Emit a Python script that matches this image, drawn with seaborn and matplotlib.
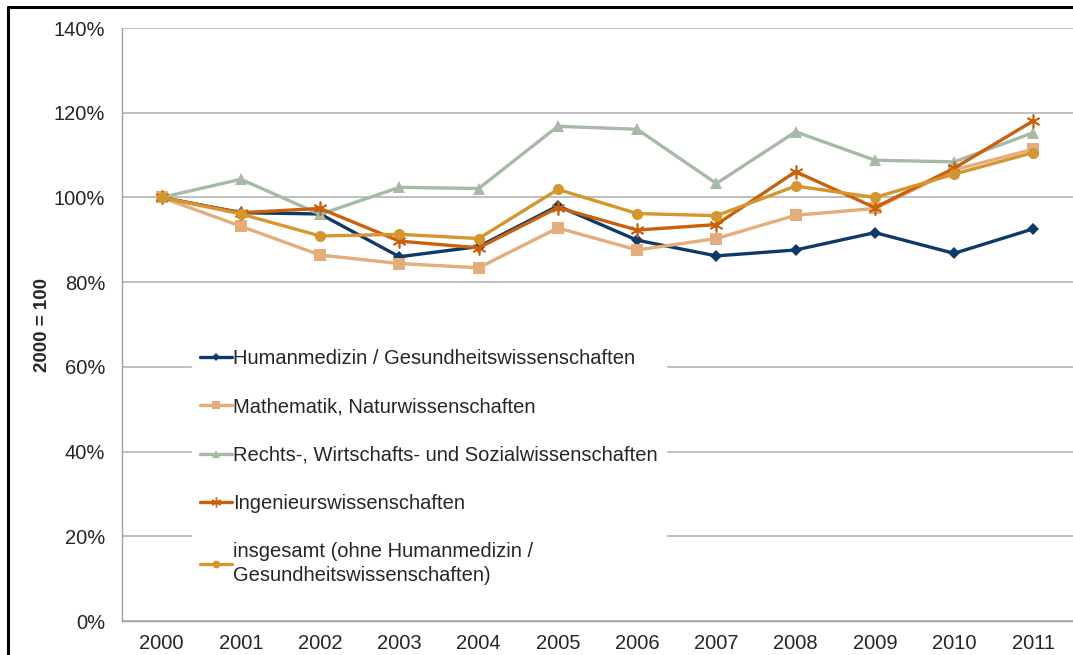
import pandas as pd
import matplotlib.pyplot as plt
import seaborn as sns
import matplotlib.ticker as ticker
from matplotlib.lines import Line2D

sns.set_style('white')
plt.rcParams['font.family'] = ['Liberation Sans', 'DejaVu Sans']

# Daten (2000 = 100)
jahre = ['2000', '2001', '2002', '2003', '2004', '2005',
         '2006', '2007', '2008', '2009', '2010', '2011']
human = [100, 96.4, 96.1, 86.0, 88.4, 98.0, 89.9, 86.2, 87.6, 91.7, 86.8, 92.6]
mathe = [100, 93.2, 86.4, 84.4, 83.4, 92.8, 87.6, 90.3, 95.8, 97.4, 106.5, 111.4]
rechts = [100, 104.3, 96.0, 102.4, 102.1, 116.8, 116.1, 103.3, 115.5, 108.8, 108.4, 115.3]
ing = [100, 96.4, 97.4, 89.7, 88.1, 97.6, 92.3, 93.6, 106.1, 97.6, 106.9, 118.1]
gesamt = [100, 96.1, 90.9, 91.3, 90.3, 101.9, 96.2, 95.7, 102.7, 100.0, 105.5, 110.6]

namen = ['Humanmedizin / Gesundheitswissenschaften',
         'Mathematik, Naturwissenschaften',
         'Rechts-, Wirtschafts- und Sozialwissenschaften',
         'Ingenieurswissenschaften',
         'insgesamt (ohne Humanmedizin /\nGesundheitswissenschaften)']
farben = ['#0F3A68', '#E3AD7C', '#A7B9A7', '#C8600E', '#D6962F']
marker = ['D', 's', '^', (6, 2, 0), 'o']
groesse = [6, 8, 8, 10, 8]

df = pd.DataFrame({'Jahr': jahre * 5,
                   'Wert': human + mathe + rechts + ing + gesamt,
                   'Gruppe': [n for n in namen for _ in jahre]})
df['x'] = df.groupby('Gruppe').cumcount()

fig = plt.figure(figsize=(10.73, 6.55), dpi=100)
ax = fig.add_axes([0.1137, 0.0519, 0.8863, 0.9053])

for i, n in enumerate(namen):
    d = df[df['Gruppe'] == n]
    sns.lineplot(data=d, x='x', y='Wert', ax=ax, color=farben[i], linewidth=2.4,
                 marker=marker[i], markersize=groesse[i], markeredgecolor=farben[i],
                 markeredgewidth=1.2 if i == 3 else 0, legend=False)

ax.set_xlim(-0.5, len(jahre) - 0.5)
ax.set_ylim(0, 140)
ax.set_xticks(range(len(jahre)))
ax.set_xticklabels(jahre, fontsize=14.5)
ax.xaxis.set_minor_locator(ticker.FixedLocator([k + 0.5 for k in range(-1, len(jahre))]))
ax.tick_params(axis='x', which='major', length=0, pad=9)
ax.tick_params(axis='x', which='minor', length=6, color='#A0A0A0', width=1, direction='out')
ax.yaxis.set_major_locator(ticker.MultipleLocator(20))
ax.yaxis.set_major_formatter(ticker.FuncFormatter(lambda v, p: f'{v:.0f}%'))
ax.tick_params(axis='y', length=8, color='#A0A0A0', width=1, direction='out', labelsize=14.5, pad=4)
ax.grid(axis='y', color='#B4B4B4', linewidth=1.2)
ax.set_axisbelow(True)
for s in ['top', 'right']:
    ax.spines[s].set_visible(False)
for s in ['left', 'bottom']:
    ax.spines[s].set_color('#A0A0A0')
    ax.spines[s].set_linewidth(1)

ax.set_xlabel('')
ax.set_ylabel('2000 = 100', fontsize=13.5, fontweight='bold')
ax.yaxis.set_label_coords(-0.0745, 0.5)

handles = [Line2D([], [], color=farben[i], linewidth=2.4, marker=marker[i],
                  markersize=groesse[i] * 0.7, markeredgecolor=farben[i],
                  markeredgewidth=1 if i == 3 else 0) for i in range(5)]
leg = ax.legend(handles, namen, loc='upper left', bbox_to_anchor=(0.063, 0.489),
                frameon=True, fontsize=14.5, handlelength=1.6, handletextpad=0.05,
                labelspacing=1.45, borderpad=0.4, fancybox=False)
leg.get_frame().set_facecolor('white')
leg.get_frame().set_edgecolor('white')
leg.get_frame().set_alpha(1)
for t in leg.get_texts():
    t.set_linespacing(1.35)

# schwarzer Rahmen oben und links
fig.add_artist(Line2D([0.007, 0.007], [0, 0.989], transform=fig.transFigure, color='black', linewidth=2.2))
fig.add_artist(Line2D([0.007, 1], [0.989, 0.989], transform=fig.transFigure, color='black', linewidth=2.2))

plt.savefig('out.png', dpi=100)
